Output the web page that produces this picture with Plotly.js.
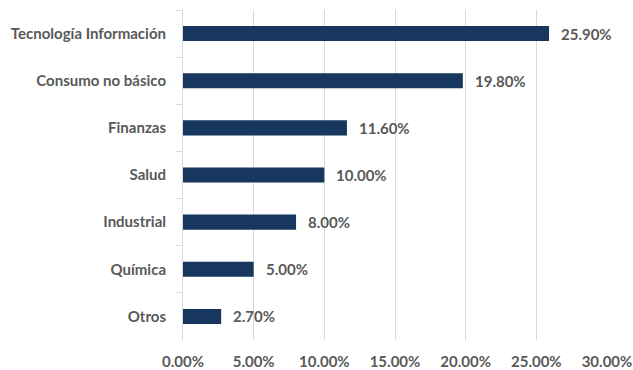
<!DOCTYPE html>
<html>
<head>
<meta charset="utf-8">
<script src="https://cdn.plot.ly/plotly-3.0.1.min.js"></script>
<style>html,body{margin:0;padding:0;background:#fff;}#chart{width:633px;height:370px;}</style>
</head>
<body>
<div id="chart"></div>
<script>
const categories = ["Tecnología Información", "Consumo no básico", "Finanzas", "Salud", "Industrial", "Química", "Otros"];
const values = [25.90, 19.80, 11.60, 10.00, 8.00, 5.00, 2.70];
const xTicks = [0, 5, 10, 15, 20, 25, 30];
const xTickLabels = ["0.00%", "5.00%", "10.00%", "15.00%", "20.00%", "25.00%", "30.00%"];

const font = "Lato, 'Open Sans', sans-serif";
const grey = "#595959";

const trace = {
  type: "bar",
  orientation: "h",
  y: categories,
  x: values,
  marker: {color: "#17375E"},
  hoverinfo: "skip"
};

const annotations = categories.map((c, i) => ({
  x: values[i], y: c, xref: "x", yref: "y",
  text: values[i].toFixed(2) + "%",
  showarrow: false, xanchor: "left", yanchor: "middle", xshift: 10,
  font: {family: font, size: 15, color: grey, weight: "bold"}
}));

const layout = {
  width: 633, height: 370,
  margin: {l: 183, r: 26, t: 10, b: 30, pad: 0},
  paper_bgcolor: "#fff", plot_bgcolor: "#fff",
  showlegend: false,
  bargap: 0.68,
  xaxis: {
    range: [0, 30], tickvals: xTicks, ticktext: xTickLabels,
    showgrid: true, gridcolor: "#D9D9D9", gridwidth: 1,
    zeroline: false, showline: false, ticks: "",
    tickfont: {family: font, size: 15, color: grey, weight: "bold"},
    ticklabelstandoff: 11, fixedrange: true
  },
  yaxis: {
    type: "category", autorange: "reversed",
    showline: true, linecolor: "#D9D9D9", linewidth: 1,
    ticks: "outside", tickson: "boundaries", ticklen: 6, tickcolor: "#D9D9D9",
    showgrid: false, zeroline: false,
    tickfont: {family: font, size: 15, color: grey, weight: "bold"},
    ticklabelstandoff: 13, fixedrange: true
  },
  annotations: annotations
};

Plotly.newPlot("chart", [trace], layout, {staticPlot: true});
</script>
</body>
</html>
